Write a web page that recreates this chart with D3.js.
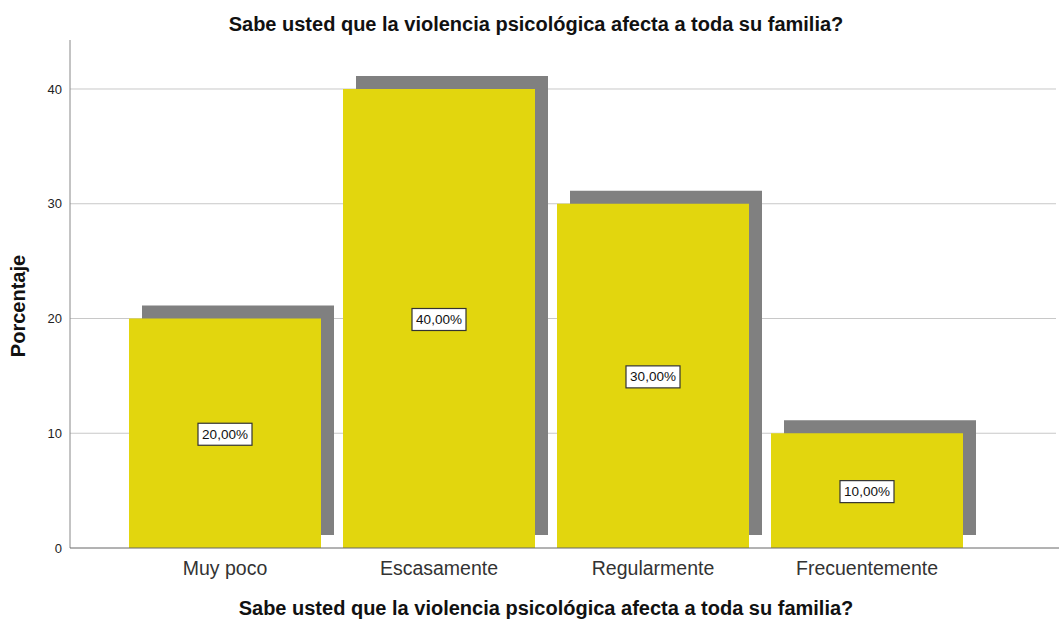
<!DOCTYPE html>
<html><head><meta charset="utf-8">
<script src="https://cdn.jsdelivr.net/npm/d3@7"></script>
<style>body{margin:0;background:#fff}svg{display:block;font-family:"Liberation Sans",Arial,sans-serif}</style>
</head><body><svg id="c" width="1059" height="621"></svg>
<script>
const categories = ["Muy poco","Escasamente","Regularmente","Frecuentemente"];
const values = [20,40,30,10];
const valueLabels = ["20,00%","40,00%","30,00%","10,00%"];
const yTicks = [0,10,20,30,40];
const title = "Sabe usted que la violencia psicológica afecta a toda su familia?";
const xTitle = "Sabe usted que la violencia psicológica afecta a toda su familia?";
const yTitle = "Porcentaje";

(function(){
const svg = d3.select("#c");
const mLeft = 70, mRight = 1059, mTop = 40, mBottom = 548;
const y = d3.scaleLinear().domain([0, 44.27]).range([mBottom, mTop]);
const x = d3.scaleBand().domain(categories).range([118, 974]).paddingInner(0.1028).paddingOuter(0.0514);
const off = 13;

// gridlines
svg.append("g").selectAll("line").data(yTicks.filter(d=>d>0)).join("line")
  .attr("x1", mLeft).attr("x2", mRight-3).attr("y1", d=>y(d)).attr("y2", d=>y(d))
  .attr("stroke", "#c8c8c8").attr("stroke-width", 1);

// shadows
svg.append("g").selectAll("rect").data(categories).join("rect")
  .attr("x", d=>x(d)+off).attr("width", x.bandwidth())
  .attr("y", (d,i)=>y(values[i])-off).attr("height", (d,i)=>y(0)-y(values[i]))
  .attr("fill", "#808080");

// bars
svg.append("g").selectAll("rect").data(categories).join("rect")
  .attr("x", d=>x(d)).attr("width", x.bandwidth())
  .attr("y", (d,i)=>y(values[i])).attr("height", (d,i)=>y(0)-y(values[i]))
  .attr("fill", "#e2d60e");

// y axis
const ya = svg.append("g").attr("transform", `translate(${mLeft},0)`)
  .call(d3.axisLeft(y).tickValues(yTicks).tickSize(0).tickPadding(8));
ya.select(".domain").attr("stroke", "#888").attr("d", `M0,${mTop}V${mBottom}`);
ya.selectAll("text").attr("font-size", 13).attr("fill", "#222").attr("font-family", "Liberation Sans, Arial, sans-serif");

// x axis
const xa = svg.append("g").attr("transform", `translate(0,${mBottom})`)
  .call(d3.axisBottom(x).tickSize(0).tickPadding(13));
xa.select(".domain").attr("stroke", "#666").attr("d", `M${mLeft},0H${mRight}`);
xa.selectAll("text").attr("font-size", 19.5).attr("fill", "#333").attr("font-family", "Liberation Sans, Arial, sans-serif");

// value labels
const lg = svg.append("g").selectAll("g").data(categories).join("g")
  .attr("transform", (d,i)=>`translate(${x(d)+x.bandwidth()/2},${y(values[i]/2)})`);
lg.append("rect").attr("x", -27).attr("y", -10).attr("width", 54).attr("height", 22)
  .attr("fill", "#fff").attr("stroke", "#333").attr("stroke-width", 1.2);
lg.append("text").text((d,i)=>valueLabels[i]).attr("text-anchor","middle").attr("dy", "0.4em")
  .attr("font-size", 13.5).attr("fill", "#111");

// titles
svg.append("text").text(title).attr("x", 536).attr("y", 31).attr("text-anchor","middle")
  .attr("font-size", 20).attr("font-weight","bold").attr("fill","#111");
svg.append("text").text(xTitle).attr("x", 546).attr("y", 615).attr("text-anchor","middle")
  .attr("font-size", 20).attr("font-weight","bold").attr("fill","#111");
svg.append("text").text(yTitle).attr("transform", "translate(25,306) rotate(-90)").attr("text-anchor","middle")
  .attr("font-size", 20).attr("font-weight","bold").attr("fill","#111");
})();
</script></body></html>
